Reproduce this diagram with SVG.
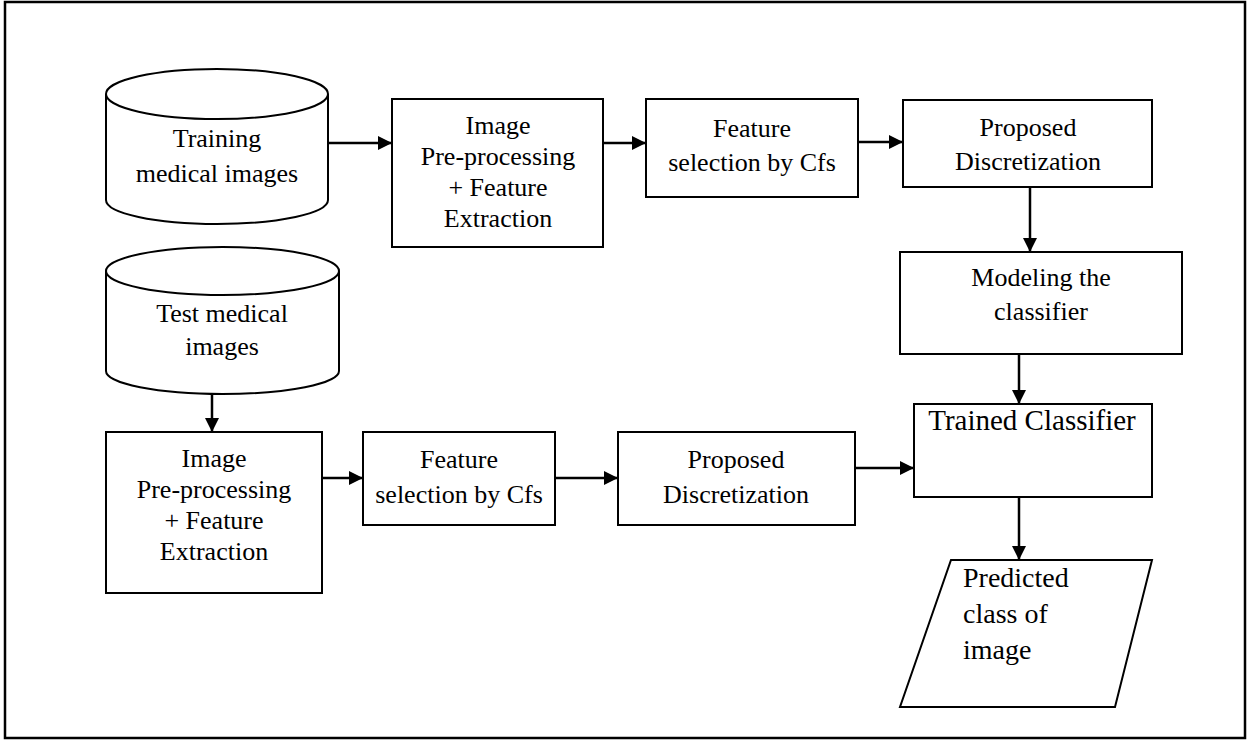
<svg xmlns="http://www.w3.org/2000/svg" width="1251" height="743" viewBox="0 0 1251 743">
  <style>
    .shape { fill: #ffffff; stroke: #000000; stroke-width: 2; }
    .edge { fill: none; stroke: #000000; stroke-width: 2.5; marker-end: url(#arrow); }
    .label { font-family: "Liberation Serif", "Times New Roman", serif; font-size: 26px; fill: #000000; text-anchor: middle; }
    .label-big { font-size: 29px; }
    .label-left { font-family: "Liberation Serif", "Times New Roman", serif; font-size: 28px; fill: #000000; }
  </style>
  <defs>
    <marker id="arrow" viewBox="0 0 14 14" refX="14" refY="7" markerWidth="14" markerHeight="14" markerUnits="userSpaceOnUse" orient="auto">
      <path d="M0,0 L14,7 L0,14 z" fill="#000000"/>
    </marker>
  </defs>

  <rect x="0" y="0" width="1251" height="743" fill="#ffffff"/>
  <!-- outer frame -->
  <rect x="5" y="2" width="1240" height="736" fill="none" stroke="#000000" stroke-width="2.5"/>

  <!-- training data store -->
  <g id="training-images">
    <path class="shape" d="M106,94 L106,200 A111,24 0 0 0 328,200 L328,94 A111,25 0 0 0 106,94 Z"/>
    <path class="shape" d="M106,94 A111,25 0 0 0 328,94" fill="none"/>
    <text class="label" x="217" y="147">Training</text>
    <text class="label" x="217" y="182">medical images</text>
  </g>

  <g id="train-preprocess">
    <rect class="shape" x="392" y="99" width="211" height="148"/>
    <text class="label" x="498" y="134">Image</text>
    <text class="label" x="498" y="165">Pre-processing</text>
    <text class="label" x="498" y="196">+ Feature</text>
    <text class="label" x="498" y="227">Extraction</text>
  </g>

  <g id="train-feature-selection">
    <rect class="shape" x="646" y="99" width="212" height="98"/>
    <text class="label" x="752" y="137">Feature</text>
    <text class="label" x="752" y="171">selection by Cfs</text>
  </g>

  <g id="train-discretization">
    <rect class="shape" x="903" y="100" width="249" height="87"/>
    <text class="label" x="1028" y="136">Proposed</text>
    <text class="label" x="1028" y="170">Discretization</text>
  </g>

  <g id="modeling">
    <rect class="shape" x="900" y="252" width="282" height="102"/>
    <text class="label" x="1041" y="286">Modeling the</text>
    <text class="label" x="1041" y="320">classifier</text>
  </g>

  <g id="trained-classifier">
    <rect class="shape" x="914" y="404" width="238" height="93"/>
    <text class="label label-big" x="1032" y="430">Trained Classifier</text>
  </g>

  <g id="prediction">
    <polygon class="shape" points="951,560 1152,560 1115,707 900,707"/>
    <text class="label-left" x="963" y="587">Predicted</text>
    <text class="label-left" x="963" y="623">class of</text>
    <text class="label-left" x="963" y="659">image</text>
  </g>

  <!-- test data store -->
  <g id="test-images">
    <path class="shape" d="M106,271 L106,371 A116.5,23 0 0 0 339,371 L339,271 A116.5,24 0 0 0 106,271 Z"/>
    <path class="shape" d="M106,271 A116.5,24 0 0 0 339,271" fill="none"/>
    <text class="label" x="222" y="322">Test medical</text>
    <text class="label" x="222" y="355">images</text>
  </g>

  <g id="test-preprocess">
    <rect class="shape" x="106" y="432" width="216" height="161"/>
    <text class="label" x="214" y="467">Image</text>
    <text class="label" x="214" y="498">Pre-processing</text>
    <text class="label" x="214" y="529">+ Feature</text>
    <text class="label" x="214" y="560">Extraction</text>
  </g>

  <g id="test-feature-selection">
    <rect class="shape" x="363" y="432" width="192" height="93"/>
    <text class="label" x="459" y="468">Feature</text>
    <text class="label" x="459" y="503">selection by Cfs</text>
  </g>

  <g id="test-discretization">
    <rect class="shape" x="618" y="432" width="237" height="93"/>
    <text class="label" x="736" y="468">Proposed</text>
    <text class="label" x="736" y="503">Discretization</text>
  </g>

  <g id="connectors">
    <line class="edge" x1="328" y1="143" x2="392" y2="143"/>
    <line class="edge" x1="603" y1="143" x2="646" y2="143"/>
    <line class="edge" x1="858" y1="142" x2="903" y2="142"/>
    <line class="edge" x1="1030" y1="187" x2="1030" y2="252"/>
    <line class="edge" x1="1019" y1="354" x2="1019" y2="404"/>
    <line class="edge" x1="1019" y1="497" x2="1019" y2="560"/>
    <line class="edge" x1="212" y1="394" x2="212" y2="432"/>
    <line class="edge" x1="322" y1="478" x2="363" y2="478"/>
    <line class="edge" x1="555" y1="478" x2="618" y2="478"/>
    <line class="edge" x1="855" y1="468" x2="914" y2="468"/>
  </g>
</svg>
